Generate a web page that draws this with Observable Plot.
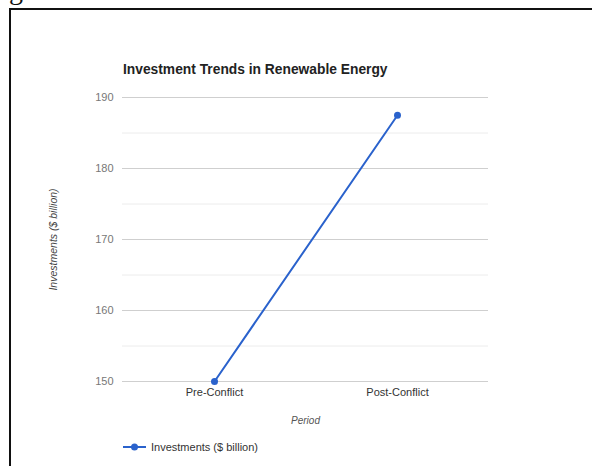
<!DOCTYPE html>
<html>
<head>
<meta charset="utf-8">
<script src="https://cdn.jsdelivr.net/npm/d3@7"></script>
<script src="https://cdn.jsdelivr.net/npm/@observablehq/plot@0.6"></script>
<style>
  html, body { margin: 0; padding: 0; background: #fff; overflow: hidden; }
  #wrap { position: relative; width: 592px; height: 466px; overflow: hidden; font-family: "Liberation Sans", Arial, sans-serif; }
  #frame { position: absolute; left: 9px; top: 8px; width: 700px; height: 700px; border-left: 2px solid #111; border-top: 2px solid #111; }
  #glyph { position: absolute; left: 9px; top: -24px; font-family: "Liberation Serif", serif; font-size: 28px; line-height: 28px; color: #111; }
  #chart { position: absolute; left: 0; top: 0; }
  #title { position: absolute; left: 123px; top: 62px; font-size: 13.8px; font-weight: bold; color: #222; white-space: nowrap; }
  #legend { position: absolute; left: 123px; top: 441px; font-size: 11px; color: #333; display: flex; align-items: center; white-space: nowrap; }
  #legend svg { margin-right: 5px; }
  [aria-label="y-axis label"] text, [aria-label="x-axis label"] text { font-style: italic; }
</style>
</head>
<body>
<div id="wrap">
  <div id="frame"></div>
  <div id="glyph">g</div>
  <div id="chart"></div>
  <div id="title">Investment Trends in Renewable Energy</div>
  <div id="legend"></div>
</div>
<script>
const periods = ["Pre-Conflict", "Post-Conflict"];
const investments = [150, 187.5];
const majorTicks = [150, 160, 170, 180, 190];
const minorTicks = [155, 165, 175, 185];
const seriesName = "Investments ($ billion)";
const lineColor = "#2a62cc";

const data = periods.map((p, i) => ({period: p, value: investments[i]}));

const chart = Plot.plot({
  width: 592,
  height: 466,
  marginLeft: 122,
  marginRight: 104,
  marginTop: 97,
  marginBottom: 85,
  style: {fontFamily: "'Liberation Sans', Arial, sans-serif", fontSize: "11px", background: "transparent", overflow: "visible"},
  x: {type: "point", domain: periods, padding: 0.5},
  y: {domain: [150, 190]},
  marks: [
    Plot.ruleY(minorTicks, {stroke: "#ececec", strokeWidth: 1}),
    Plot.ruleY(majorTicks, {stroke: "#cfcfcf", strokeWidth: 1}),
    Plot.axisY(majorTicks, {tickSize: 0, tickPadding: 9, fill: "#777", label: "Investments ($ billion)", labelAnchor: "center", labelOffset: 73, labelArrow: "none", fontSize: 11}),
    Plot.axisX({tickSize: 0, tickPadding: 7, fill: "#333", label: "Period", labelAnchor: "center", labelOffset: 42, labelArrow: "none", fontSize: 11}),
    Plot.line(data, {x: "period", y: "value", stroke: lineColor, strokeWidth: 2}),
    Plot.dot(data, {x: "period", y: "value", fill: lineColor, r: 3.5})
  ]
});
document.getElementById("chart").appendChild(chart);

// style axis labels
chart.querySelectorAll('[aria-label="y-axis label"] text').forEach(t => { t.setAttribute("fill", "#444"); t.setAttribute("font-size", "10.5"); });
chart.querySelectorAll('[aria-label="x-axis label"] text').forEach(t => { t.setAttribute("fill", "#555"); t.setAttribute("font-size", "10"); });

// legend
const legend = document.getElementById("legend");
legend.innerHTML = `<svg width="23" height="10"><line x1="0" x2="23" y1="5" y2="5" stroke="${lineColor}" stroke-width="2"/><circle cx="11.5" cy="5" r="3.5" fill="${lineColor}"/></svg><span>${seriesName}</span>`;
</script>
</body>
</html>
